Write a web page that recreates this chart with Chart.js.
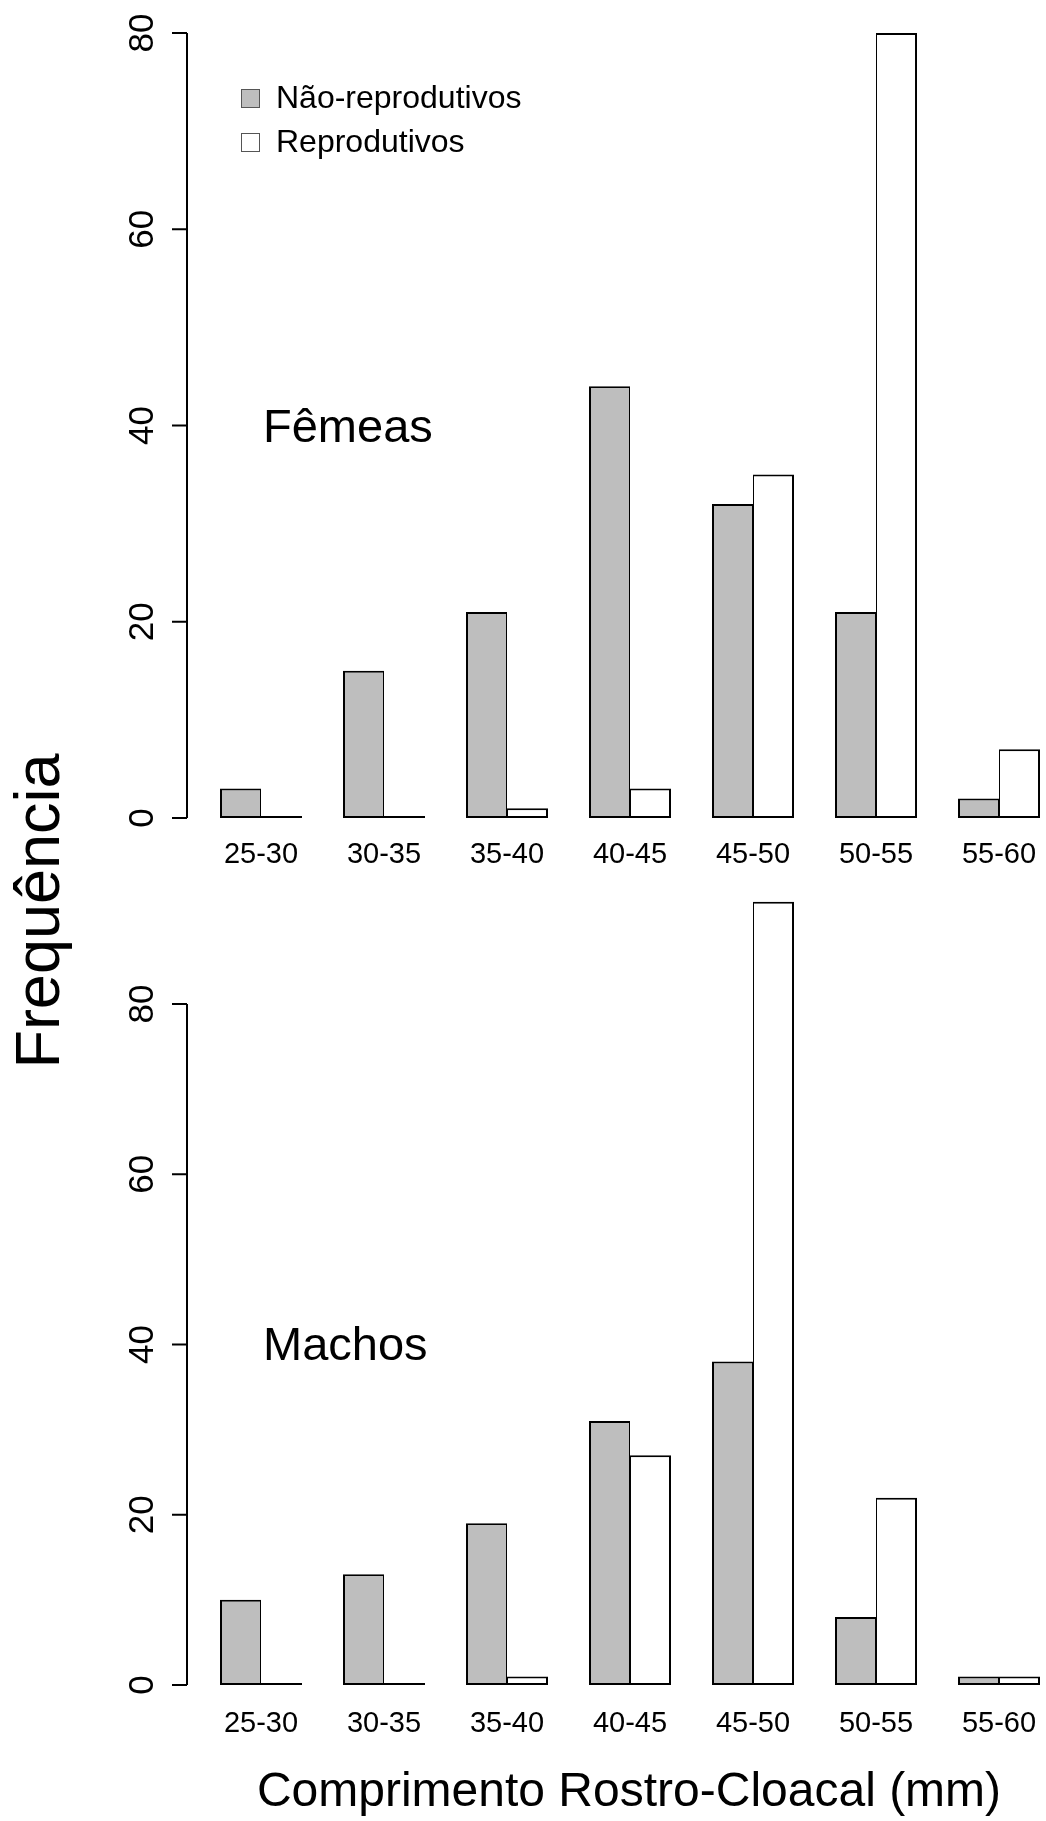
<!DOCTYPE html>
<html>
<head>
<meta charset="utf-8">
<script src="https://cdn.jsdelivr.net/npm/chart.js@4.4.1/dist/chart.umd.min.js"></script>
<style>
  html, body { margin: 0; padding: 0; background: #fff; overflow: hidden; }
  #wrap { position: relative; width: 1046px; height: 1821px; }
  canvas { position: absolute; left: 0; }
  #ylab {
    position: absolute; left: 37px; top: 911px;
    width: 420px; height: 70px; line-height: 70px;
    text-align: center; white-space: nowrap;
    font-family: "Liberation Sans", Arial, sans-serif; font-size: 63px; color: #000;
    transform: translate(-50%, -50%) rotate(-90deg);
  }
</style>
</head>
<body>
<div id="wrap">
  <canvas id="femeas" width="1046" height="880" style="top:0"></canvas>
  <canvas id="machos" width="1046" height="941" style="top:880px"></canvas>
  <div id="ylab">Frequência</div>
</div>
<script>
const classes = ['25-30', '30-35', '35-40', '40-45', '45-50', '50-55', '55-60'];
const seriesNames = ['Não-reprodutivos', 'Reprodutivos'];
const yTicks = [0, 20, 40, 60, 80];

const femeasNaoRepro = [3, 15, 21, 44, 32, 21, 2];
const femeasRepro = [0, 0, 1, 3, 35, 80, 7];
const machosNaoRepro = [10, 13, 19, 31, 38, 8, 1];
const machosRepro = [0, 0, 1, 27, 92, 22, 1];

const FONT = '"Liberation Sans", Arial, sans-serif';
const GRAY = '#bebebe';

// R-style axes, labels and legend drawn on top of the bars
const rStyle = {
  id: 'rStyle',
  afterDatasetsDraw(chart, args, o) {
    const ctx = chart.ctx;
    const xs = chart.scales.x, ys = chart.scales.y;
    ctx.save();
    ctx.strokeStyle = '#000';
    ctx.fillStyle = '#000';
    ctx.lineWidth = 2;

    // y axis: line from first to last tick, ticks outward
    const axX = 187;
    ctx.beginPath();
    ctx.moveTo(axX, ys.getPixelForValue(yTicks[0]));
    ctx.lineTo(axX, ys.getPixelForValue(yTicks[yTicks.length - 1]));
    yTicks.forEach(t => {
      const y = ys.getPixelForValue(t);
      ctx.moveTo(axX, y);
      ctx.lineTo(172, y);
    });
    ctx.stroke();

    ctx.font = '35px ' + FONT;
    ctx.textAlign = 'center';
    ctx.textBaseline = 'alphabetic';
    yTicks.forEach(t => {
      const y = ys.getPixelForValue(t);
      ctx.save();
      ctx.translate(153, y);
      ctx.rotate(-Math.PI / 2);
      ctx.fillText(String(t), 0, 0);
      ctx.restore();
    });

    // class labels under each group
    ctx.font = '29px ' + FONT;
    const labY = ys.getPixelForValue(0) + o.labelOffset;
    classes.forEach((c, i) => {
      ctx.fillText(c, xs.getPixelForValue(i + 1), labY);
    });

    // panel name
    ctx.textAlign = 'left';
    ctx.font = '47px ' + FONT;
    ctx.fillText(o.name, 263, o.nameY);

    // legend
    if (o.legend) {
      ctx.font = '32px ' + FONT;
      ctx.textBaseline = 'middle';
      ctx.lineWidth = 1;
      chart.data.datasets.forEach((ds, i) => {
        const cy = 98 + i * 44;
        ctx.fillStyle = ds.backgroundColor;
        ctx.fillRect(241, cy - 9, 19, 19);
        ctx.strokeStyle = '#555';
        ctx.strokeRect(241.5, cy - 8.5, 18, 18);
        ctx.fillStyle = '#000';
        ctx.fillText(ds.label, 276, cy + 1);
      });
    }

    // x axis title
    if (o.xTitle) {
      ctx.textAlign = 'center';
      ctx.textBaseline = 'alphabetic';
      ctx.font = '48px ' + FONT;
      ctx.fillText(o.xTitle, 629, o.xTitleY);
    }
    ctx.restore();
  }
};

function makePanel(id, nao, repro, p) {
  const base = {
    borderColor: '#000',
    borderSkipped: false,
    minBarLength: 2,
    categoryPercentage: 2 / 3,
    barPercentage: 1,
    clip: false
  };
  return new Chart(document.getElementById(id), {
    type: 'bar',
    data: {
      datasets: [
        Object.assign({}, base, {
          label: seriesNames[0],
          data: nao.map((v, i) => ({ x: i + 1, y: v })),
          backgroundColor: GRAY,
          borderWidth: { top: 2, left: 2, right: 1, bottom: 2 }
        }),
        Object.assign({}, base, {
          label: seriesNames[1],
          data: repro.map((v, i) => ({ x: i + 1, y: v })),
          backgroundColor: '#ffffff',
          borderWidth: { top: 2, left: 1, right: 2, bottom: 2 }
        })
      ]
    },
    options: {
      responsive: false,
      animation: false,
      layout: { padding: { left: 199.5, right: 0, top: p.padTop, bottom: p.padBottom } },
      plugins: {
        legend: { display: false },
        tooltip: { enabled: false },
        rStyle: p.style
      },
      scales: {
        x: {
          type: 'linear', display: false, offset: false,
          min: 0.5, max: 7.382,
          afterBuildTicks: s => { s.ticks = classes.map((c, i) => ({ value: i + 1 })); }
        },
        y: { display: false, min: 0, max: p.yMax }
      }
    },
    plugins: [rStyle]
  });
}

makePanel('femeas', femeasNaoRepro, femeasRepro, {
  yMax: 82, padTop: 13.4, padBottom: 62,
  style: { name: 'Fêmeas', nameY: 442, labelOffset: 45, legend: true }
});

makePanel('machos', machosNaoRepro, machosRepro, {
  yMax: 94, padTop: 4.8, padBottom: 136,
  style: { name: 'Machos', nameY: 480, labelOffset: 47, legend: false,
           xTitle: 'Comprimento Rostro-Cloacal (mm)', xTitleY: 926 }
});
</script>
</body>
</html>
